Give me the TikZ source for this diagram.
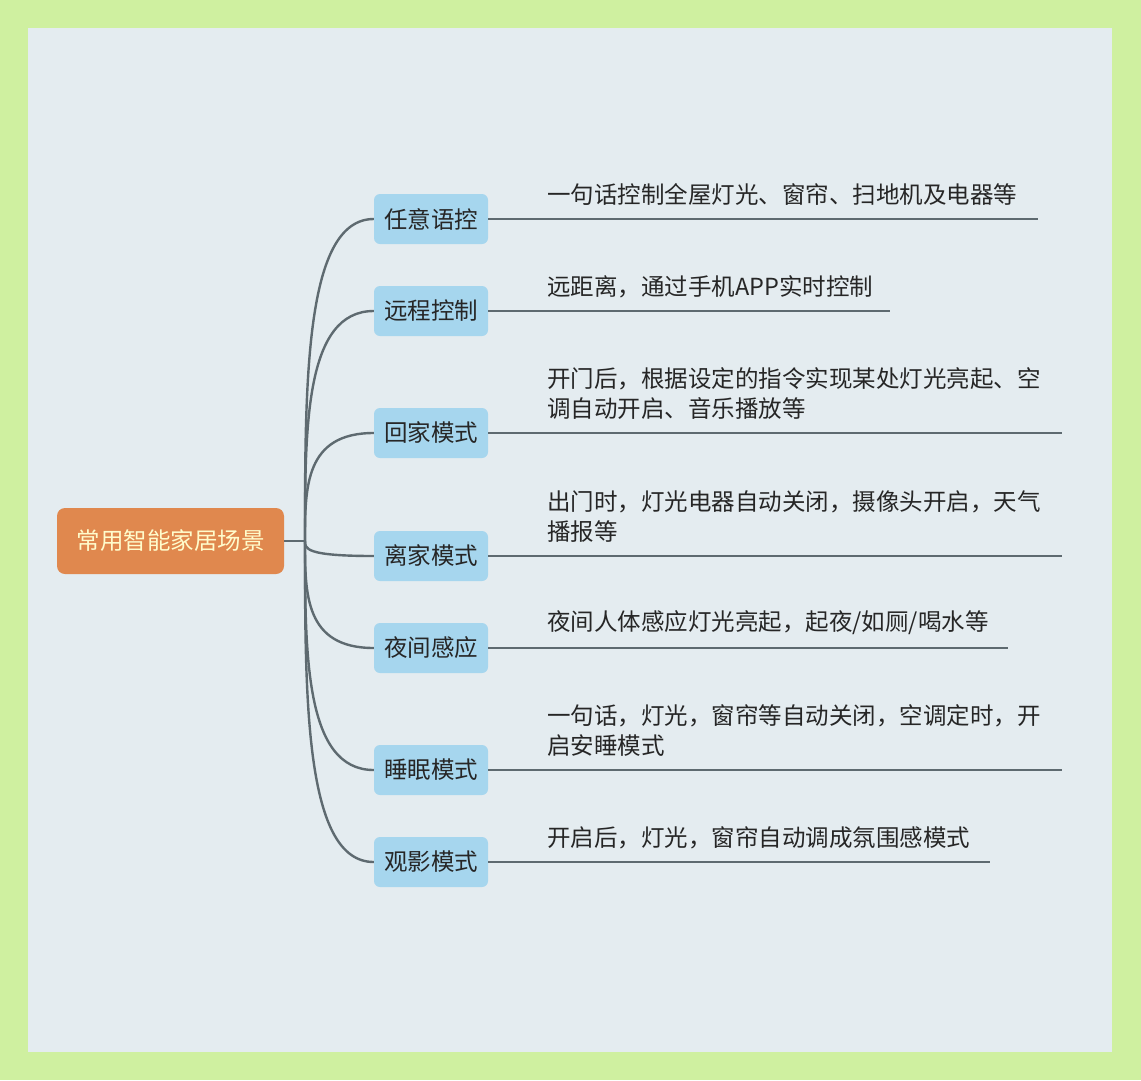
\documentclass[tikz,border=0pt]{standalone}
\usepackage{fontspec}
\newfontfamily\cjk{Noto Sans CJK SC}
\definecolor{outer}{HTML}{CFF0A0}
\definecolor{panel}{HTML}{E4ECF0}
\definecolor{rootc}{HTML}{E0884E}
\definecolor{kid}{HTML}{A6D6EE}
\definecolor{ln}{HTML}{5E6A70}
\begin{document}
\begin{tikzpicture}[x=1pt,y=-1pt,
  kidbox/.style={fill=kid,rounded corners=6pt,minimum width=114pt,minimum height=50pt,inner sep=2pt,font=\cjk\fontsize{23.5}{26}\selectfont,text=black!85},
  desc/.style={anchor=south west,align=left,font=\cjk\fontsize{23.5}{30}\selectfont,text=black!85,inner sep=0pt},
  conn/.style={draw=ln,line width=2.4pt}]
\useasboundingbox (0,0) rectangle (1141,1080);
\fill[outer] (0,0) rectangle (1141,1080);
\fill[panel] (28,28) rectangle (1112,1052);
\node[fill=rootc,rounded corners=8pt,minimum width=227pt,minimum height=66pt,font=\cjk\fontsize{23.5}{26}\selectfont,text=yellow!20] (root) at (170.5,541) {常用智能家居场景};
\coordinate (hub) at (305,541);
\draw[conn] (root.east) -- (hub);
\foreach \n/\y/\e/\t/\l in {
 a/219/1038/{一句话控制全屋灯光、窗帘、扫地机及电器等}/任意语控,
 b/311/890/{远距离，通过手机APP实时控制}/远程控制,
 c/433/1062/{开门后，根据设定的指令实现某处灯光亮起、空\\调自动开启、音乐播放等}/回家模式,
 d/556/1062/{出门时，灯光电器自动关闭，摄像头开启，天气\\播报等}/离家模式,
 e/648/1008/{夜间人体感应灯光亮起，起夜{/}如厕{/}喝水等}/夜间感应,
 f/770/1062/{一句话，灯光，窗帘等自动关闭，空调定时，开\\启安睡模式}/睡眠模式,
 g/862/990/{开启后，灯光，窗帘自动调成氛围感模式}/观影模式}{
  \node[kidbox] (\n) at (431,\y) {\l};
  \coordinate (\n e) at (\e,\y);
  \draw[conn] (hub) .. controls (305,{(\y+541)/2}) and (305,\y) .. (\n.west);
  \draw[conn] (\n.east) -- (\n e);
  \node[desc] (\n t) at (547,\y-13) {\t};
}
\end{tikzpicture}
\end{document}
